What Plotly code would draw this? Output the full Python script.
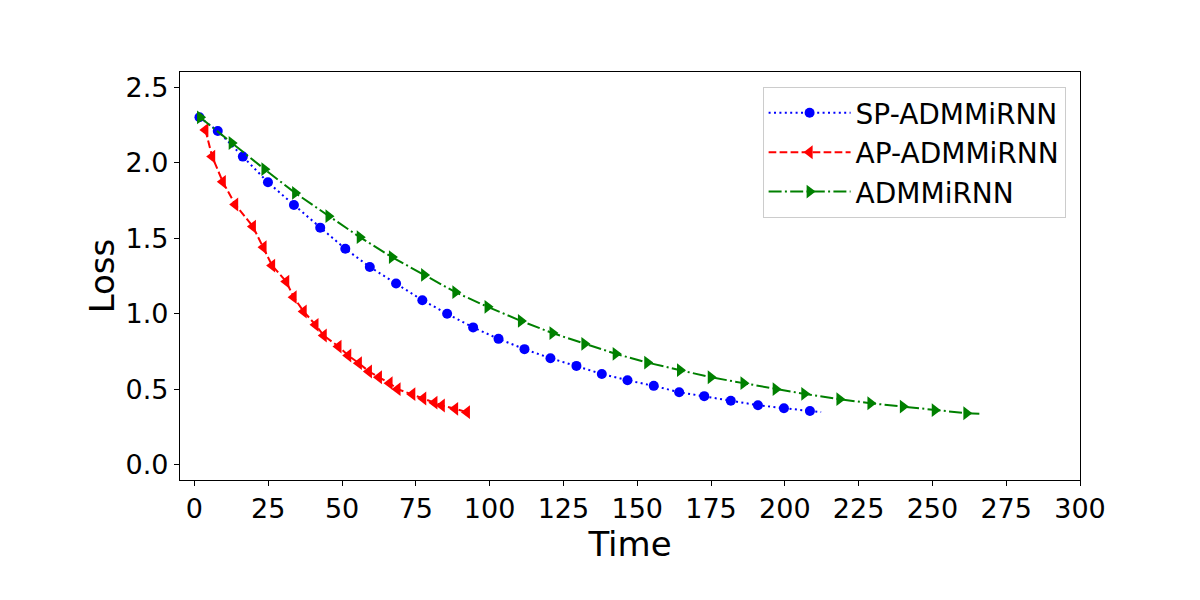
import plotly.graph_objects as go

# SP-ADMMiRNN (blue, dotted, circles); last point is the line tail, no marker
sp_time = [1.7, 7.9, 16.4, 24.9, 33.7, 42.6, 51.1, 59.4, 68.3, 77.2, 85.6, 94.4, 103.0,
           111.8, 120.6, 129.4, 138.0, 146.7, 155.6, 164.2, 172.7, 181.7, 190.9, 199.7,
           208.5, 212.3]
sp_loss = [2.30, 2.21, 2.04, 1.87, 1.72, 1.57, 1.43, 1.31, 1.20, 1.09, 1.00, 0.91, 0.834,
           0.766, 0.706, 0.655, 0.602, 0.560, 0.523, 0.481, 0.455, 0.424, 0.395, 0.375,
           0.357, 0.350]

# AP-ADMMiRNN (red, dashed, left triangles)
ap_time = [3.7, 6.0, 9.6, 13.8, 19.8, 23.4, 26.3, 31.1, 33.6, 37.0, 41.0, 43.8, 48.8,
           52.1, 55.7, 59.1, 62.5, 66.1, 68.8, 73.8, 77.5, 81.3, 83.8, 88.3, 92.3]
ap_loss = [2.217, 2.04, 1.873, 1.723, 1.577, 1.44, 1.319, 1.213, 1.11, 1.015, 0.927,
           0.856, 0.783, 0.724, 0.673, 0.618, 0.580, 0.541, 0.501, 0.468, 0.439, 0.412,
           0.393, 0.371, 0.349]

# ADMMiRNN (green, dash-dot, right triangles); last point is the line tail
ad_time = [1.9, 12.6, 23.7, 34.1, 45.4, 56.0, 66.9, 77.8, 88.4, 99.3, 110.6, 121.3,
           132.1, 142.7, 153.4, 164.5, 174.9, 186.0, 196.9, 206.6, 218.5, 229.0, 240.0,
           250.8, 261.5, 267.0]
ad_loss = [2.30, 2.13, 1.957, 1.80, 1.646, 1.507, 1.375, 1.257, 1.143, 1.046, 0.953,
           0.872, 0.801, 0.735, 0.677, 0.627, 0.580, 0.541, 0.501, 0.470, 0.435, 0.408,
           0.386, 0.362, 0.342, 0.337]

x_ticks = list(range(0, 301, 25))
y_ticks = [0.0, 0.5, 1.0, 1.5, 2.0, 2.5]

# name, x, y, colour, dash, symbol, marker size, has a marker-less tail point
# dash patterns mimic matplotlib ':', '--' and '-.' at 1.5pt
series = [
    ('SP-ADMMiRNN', sp_time, sp_loss, 'blue', '2px,3.4px', 'circle', 10, True),
    ('AP-ADMMiRNN', ap_time, ap_loss, 'red', '7.7px,3.3px', 'triangle-left', 12, False),
    ('ADMMiRNN', ad_time, ad_loss, 'green', '13px,3.3px,2px,3.3px', 'triangle-right', 12, True),
]

fig = go.Figure()
for name, x, y, color, dash, symbol, msize, tail in series:
    n = len(x) - 1 if tail else len(x)
    fig.add_trace(go.Scatter(
        name=name,
        x=x[:n],
        y=y[:n],
        mode='lines+markers',
        legendgroup=name,
        line=dict(color=color, dash=dash, width=2),
        marker=dict(color=color, symbol=symbol, size=msize, opacity=1,
                    line=dict(width=0)),
    ))
    if tail:
        # short line past the last marker
        fig.add_trace(go.Scatter(
            x=x[-2:],
            y=y[-2:],
            mode='lines',
            legendgroup=name,
            showlegend=False,
            line=dict(color=color, dash=dash, width=2),
        ))

axis_common = dict(
    showgrid=False,
    zeroline=False,
    showline=True,
    linecolor='black',
    linewidth=1.1,
    mirror=True,
    ticks='outside',
    ticklen=5,
    tickwidth=1,
    tickcolor='black',
    tickfont=dict(size=27, color='black'),
)

fig.update_layout(
    width=1200,
    height=600,
    margin=dict(l=172, r=128, t=64, b=128),
    paper_bgcolor='white',
    plot_bgcolor='white',
    font=dict(family='DejaVu Sans', color='black'),
    xaxis=dict(
        axis_common,
        range=[-4.9, 300],
        tickvals=x_ticks,
        title=dict(text='Time', font=dict(size=34), standoff=4),
        automargin=False,
    ),
    yaxis=dict(
        axis_common,
        range=[-0.1, 2.6],
        tickvals=y_ticks,
        tickformat='.1f',
        title=dict(text='Loss', font=dict(size=34), standoff=0),
        automargin=False,
    ),
    legend=dict(
        x=0.984,
        y=0.963,
        xanchor='right',
        yanchor='top',
        bgcolor='white',
        bordercolor='#cccccc',
        borderwidth=1,
        font=dict(size=28),
        tracegroupgap=0,
        itemwidth=82,
    ),
)

fig.write_html("out.html")
